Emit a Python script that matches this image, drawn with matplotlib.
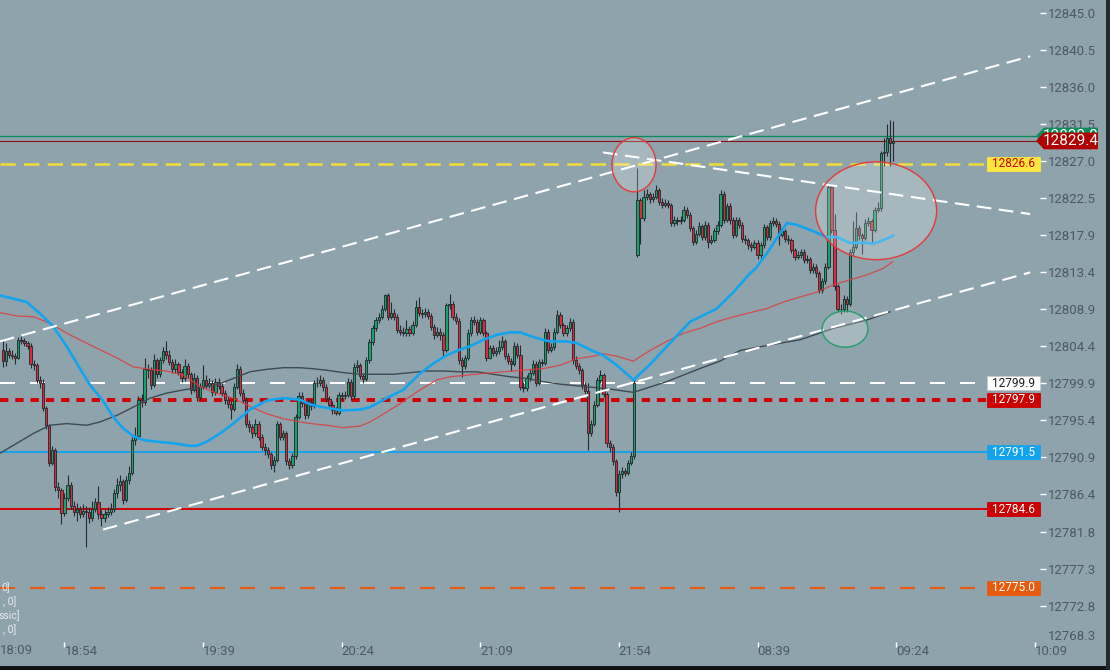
import matplotlib
matplotlib.use("Agg")
import matplotlib.pyplot as plt
from matplotlib.patches import Ellipse, Rectangle, Polygon
import numpy as np

plt.rcParams['font.family'] = ['Roboto', 'DejaVu Sans']
plt.rcParams['lines.scale_dashes'] = False

# ---- candles (1 min), index 0 = 18:34, index 206 = 08:00 next session ----
first_open = 12804.0
gap_open = 12815.5
gap_index = 206

closes = [
    12802.6, 12803.8, 12803.4, 12803.2, 12803.0, 12805.2, 12805.1, 12804.8, 12804.5, 12802.3,
    12802.1, 12800.3, 12800.0, 12796.9, 12794.8, 12790.2, 12791.8, 12787.3, 12786.9, 12784.1,
    12786.0, 12787.5, 12785.0, 12784.3, 12784.6, 12784.0, 12784.4, 12784.2, 12783.5, 12784.6,
    12785.4, 12784.0, 12783.5, 12784.0, 12784.3, 12784.6, 12786.5, 12787.5, 12788.0, 12785.7,
    12788.1, 12789.0, 12793.0, 12793.5, 12797.9, 12797.6, 12801.7, 12801.5, 12799.7, 12802.7,
    12801.0, 12802.7, 12803.8, 12803.3, 12802.5, 12801.6, 12802.2, 12801.3, 12800.5, 12802.0,
    12801.0, 12799.1, 12800.6, 12798.2, 12799.5, 12800.3, 12799.7, 12799.9, 12798.8, 12800.1,
    12799.6, 12798.7, 12797.9, 12797.4, 12796.8, 12799.5, 12801.7, 12798.7, 12797.9, 12795.0,
    12794.6, 12793.8, 12795.0, 12793.4, 12792.2, 12791.8, 12791.3, 12790.0, 12790.6, 12795.0,
    12793.4, 12793.8, 12790.4, 12790.0, 12791.0, 12795.8, 12798.4, 12797.5, 12796.0, 12797.6,
    12797.1, 12799.9, 12800.0, 12800.3, 12799.5, 12798.0, 12797.3, 12796.6, 12796.3, 12798.5,
    12798.3, 12798.5, 12800.1, 12798.3, 12801.9, 12802.1, 12800.8, 12800.4, 12802.7, 12804.9,
    12806.6, 12807.6, 12808.0, 12809.0, 12810.6, 12808.0, 12808.4, 12808.0, 12806.4, 12806.2,
    12806.0, 12806.5, 12806.0, 12807.0, 12809.2, 12808.5, 12808.3, 12808.6, 12808.1, 12806.8,
    12805.8, 12806.2, 12805.8, 12804.0, 12809.4, 12809.6, 12808.0, 12807.5, 12802.7, 12802.0,
    12803.0, 12806.0, 12807.6, 12807.4, 12806.2, 12807.6, 12806.0, 12803.0, 12804.2, 12803.6,
    12803.8, 12804.3, 12805.0, 12803.2, 12802.6, 12802.3, 12804.5, 12803.4, 12799.5, 12799.3,
    12800.5, 12801.2, 12802.3, 12800.0, 12802.5, 12802.4, 12806.2, 12804.0, 12804.3, 12806.2,
    12808.2, 12807.0, 12806.0, 12806.6, 12807.4, 12802.7, 12802.0, 12801.5, 12799.7, 12799.0,
    12793.8, 12795.0, 12797.3, 12800.3, 12800.9, 12798.6, 12792.6, 12792.2, 12790.4, 12786.7,
    12788.9, 12789.2, 12789.0, 12790.2, 12791.0, 12799.9, 12822.2, 12820.0, 12822.6, 12822.9,
    12822.3, 12822.6, 12823.4, 12822.0, 12821.6, 12821.8, 12821.6, 12819.4, 12819.8, 12819.6,
    12819.8, 12821.0, 12820.4, 12818.8, 12817.1, 12818.1, 12819.0, 12817.7, 12819.2, 12817.1,
    12817.4, 12818.4, 12819.2, 12823.0, 12819.8, 12821.5, 12819.8, 12818.0, 12819.8, 12819.2,
    12817.5, 12817.3, 12816.7, 12816.5, 12817.0, 12815.5, 12816.7, 12818.9, 12817.7, 12819.4,
    12819.6, 12819.3, 12818.0, 12818.4, 12817.5, 12817.3, 12816.1, 12815.3, 12815.5, 12815.9,
    12814.9, 12815.0, 12813.7, 12814.1, 12813.3, 12811.2, 12812.3, 12814.1, 12823.8, 12818.6,
    12811.7, 12809.0, 12808.9, 12810.2, 12809.6, 12815.9, 12816.5, 12818.8, 12817.9, 12817.6,
    12819.4, 12819.6, 12818.6, 12821.0, 12821.2, 12827.9, 12828.0, 12829.7, 12829.2, 12829.4,
]

highs = [
    12805.2, 12804.8, 12804.2, 12803.9, 12803.6, 12805.5, 12805.6, 12805.4, 12805.0, 12804.8,
    12802.7, 12802.4, 12800.8, 12800.4, 12797.2, 12795.0, 12792.3, 12792.0, 12787.9, 12787.2,
    12786.5, 12788.8, 12787.9, 12785.6, 12785.3, 12785.0, 12785.2, 12785.0, 12784.8, 12785.6,
    12786.0, 12787.4, 12784.5, 12784.6, 12784.9, 12785.3, 12787.0, 12788.4, 12788.7, 12788.3,
    12788.6, 12789.8, 12793.4, 12794.6, 12798.3, 12798.6, 12803.0, 12802.3, 12801.9, 12803.5,
    12803.0, 12803.1, 12804.3, 12805.0, 12803.9, 12802.9, 12802.8, 12802.5, 12801.7, 12802.8,
    12802.4, 12801.3, 12801.1, 12800.9, 12799.9, 12802.1, 12800.9, 12800.6, 12800.3, 12800.6,
    12800.5, 12800.0, 12799.1, 12798.3, 12797.8, 12800.0, 12802.2, 12802.0, 12799.2, 12798.2,
    12795.4, 12795.0, 12795.5, 12795.3, 12793.7, 12792.6, 12792.1, 12791.6, 12791.0, 12795.3,
    12795.2, 12794.2, 12794.1, 12790.8, 12791.4, 12796.2, 12798.9, 12798.9, 12797.8, 12798.0,
    12798.0, 12800.3, 12800.7, 12800.9, 12800.7, 12799.8, 12798.4, 12797.7, 12797.0, 12798.9,
    12798.9, 12799.0, 12800.5, 12800.4, 12802.4, 12802.7, 12802.4, 12801.2, 12803.1, 12805.3,
    12807.0, 12808.0, 12808.5, 12809.4, 12810.8, 12810.9, 12809.8, 12808.9, 12808.3, 12807.0,
    12806.8, 12807.6, 12806.9, 12807.5, 12810.0, 12810.4, 12809.0, 12809.1, 12808.9, 12808.4,
    12807.1, 12806.7, 12806.6, 12806.1, 12809.7, 12810.8, 12809.9, 12808.4, 12807.8, 12803.1,
    12803.4, 12806.5, 12808.0, 12808.1, 12807.7, 12808.0, 12807.9, 12806.3, 12804.6, 12804.6,
    12804.3, 12805.2, 12805.6, 12805.3, 12803.6, 12803.0, 12804.9, 12804.8, 12804.6, 12800.1,
    12800.9, 12801.6, 12802.7, 12802.6, 12802.9, 12802.9, 12806.6, 12806.5, 12804.8, 12806.6,
    12808.8, 12808.6, 12807.3, 12807.0, 12807.8, 12807.7, 12803.2, 12802.4, 12801.8, 12800.1,
    12800.0, 12795.4, 12797.7, 12800.7, 12801.5, 12801.2, 12798.9, 12793.0, 12792.5, 12790.7,
    12789.3, 12789.7, 12789.6, 12790.6, 12791.5, 12800.4, 12826.1, 12822.5, 12823.4, 12823.6,
    12823.2, 12823.1, 12824.0, 12823.7, 12822.4, 12822.3, 12822.2, 12821.9, 12820.3, 12820.2,
    12820.3, 12821.5, 12821.3, 12820.7, 12819.1, 12818.6, 12819.5, 12819.3, 12819.6, 12819.5,
    12817.9, 12818.8, 12819.6, 12823.4, 12823.3, 12821.9, 12821.8, 12820.1, 12820.2, 12820.1,
    12819.5, 12817.9, 12817.6, 12817.1, 12817.4, 12817.3, 12817.1, 12819.3, 12819.2, 12819.8,
    12820.1, 12820.0, 12819.6, 12818.9, 12818.7, 12817.9, 12817.6, 12816.4, 12816.0, 12816.3,
    12816.2, 12815.5, 12815.3, 12814.6, 12814.4, 12813.6, 12812.7, 12814.5, 12824.0, 12823.9,
    12820.5, 12812.0, 12809.6, 12810.6, 12810.5, 12816.3, 12819.6, 12820.8, 12819.2, 12818.2,
    12819.9, 12820.1, 12819.9, 12821.4, 12822.0, 12828.2, 12829.8, 12831.5, 12832.0, 12831.8,
]

lows = [
    12801.9, 12802.0, 12803.0, 12802.8, 12802.3, 12802.8, 12804.7, 12804.4, 12804.1, 12801.8,
    12801.5, 12799.9, 12799.3, 12796.5, 12794.3, 12789.8, 12789.9, 12786.8, 12786.0, 12782.8,
    12783.7, 12785.6, 12784.6, 12783.8, 12783.2, 12783.5, 12783.6, 12780.0, 12782.9, 12783.1,
    12784.2, 12783.4, 12782.5, 12783.0, 12783.6, 12783.9, 12784.3, 12786.0, 12786.8, 12785.2,
    12785.4, 12787.7, 12788.8, 12792.4, 12793.1, 12797.0, 12797.3, 12800.6, 12799.2, 12799.4,
    12800.6, 12800.7, 12802.4, 12802.9, 12802.1, 12801.2, 12801.2, 12800.9, 12800.1, 12800.2,
    12800.6, 12798.6, 12798.8, 12797.7, 12797.9, 12799.2, 12799.3, 12799.3, 12798.4, 12798.5,
    12799.2, 12798.3, 12797.4, 12796.9, 12795.5, 12796.5, 12799.2, 12798.3, 12797.5, 12794.6,
    12794.0, 12793.3, 12793.5, 12793.0, 12791.8, 12791.2, 12790.8, 12789.5, 12789.1, 12790.3,
    12793.0, 12793.0, 12790.0, 12789.5, 12789.6, 12790.7, 12795.5, 12797.0, 12795.5, 12795.7,
    12796.7, 12796.9, 12799.4, 12799.6, 12799.0, 12797.6, 12796.9, 12796.2, 12796.0, 12796.1,
    12797.9, 12798.0, 12798.2, 12797.9, 12798.0, 12801.3, 12800.4, 12799.9, 12800.2, 12802.4,
    12804.6, 12806.3, 12807.2, 12807.7, 12808.7, 12807.6, 12807.7, 12807.6, 12806.0, 12805.8,
    12805.6, 12805.7, 12805.6, 12805.8, 12806.8, 12808.1, 12807.9, 12808.0, 12807.7, 12806.4,
    12805.3, 12805.5, 12805.2, 12803.2, 12803.7, 12809.0, 12807.6, 12807.1, 12802.3, 12800.7,
    12801.7, 12802.7, 12805.7, 12807.0, 12805.8, 12805.9, 12805.6, 12802.6, 12802.8, 12803.2,
    12803.2, 12803.5, 12804.0, 12802.8, 12802.2, 12801.4, 12802.0, 12803.0, 12799.1, 12798.9,
    12799.0, 12800.2, 12800.9, 12799.6, 12799.7, 12802.0, 12802.1, 12803.6, 12803.7, 12804.0,
    12805.9, 12806.6, 12805.6, 12805.7, 12806.3, 12802.3, 12801.6, 12801.0, 12799.2, 12798.6,
    12791.8, 12793.5, 12794.7, 12797.0, 12800.0, 12798.2, 12792.2, 12791.6, 12789.9, 12786.2,
    12784.2, 12788.4, 12788.6, 12788.7, 12789.9, 12790.7, 12815.3, 12816.9, 12819.7, 12822.2,
    12821.9, 12822.0, 12822.3, 12821.6, 12821.2, 12821.3, 12821.2, 12819.0, 12819.1, 12819.2,
    12819.3, 12819.5, 12820.0, 12818.4, 12816.7, 12816.8, 12817.8, 12817.3, 12817.4, 12816.4,
    12816.8, 12817.1, 12818.1, 12818.9, 12819.4, 12819.5, 12819.3, 12817.6, 12817.7, 12818.8,
    12817.1, 12816.9, 12816.3, 12816.0, 12816.2, 12815.0, 12815.2, 12816.4, 12817.3, 12817.4,
    12819.1, 12818.9, 12816.7, 12817.7, 12817.1, 12816.9, 12815.7, 12814.9, 12815.0, 12815.1,
    12814.5, 12814.5, 12813.3, 12813.3, 12812.8, 12810.9, 12810.9, 12812.0, 12813.8, 12818.2,
    12811.3, 12808.6, 12808.3, 12808.6, 12808.6, 12809.3, 12815.4, 12816.2, 12817.4, 12815.6,
    12817.3, 12819.0, 12817.0, 12818.3, 12820.7, 12820.9, 12826.4, 12827.6, 12826.4, 12826.9,
]

# ---- moving averages (index, price) ----
ma_blue_x = [-0.9, 7.7, 12, 16.4, 20.7, 26, 28.3, 32.6, 35.8, 39.1, 42.3, 45.6, 49.9, 55.3,
             60.7, 62.9, 66.2, 70.5, 74.8, 80.2, 85.6, 91, 96.5, 100, 105.1, 110.5, 116,
             119.2, 124.6, 130, 135.4, 139.7, 144, 148.4, 151.6, 156, 160.3, 164.6, 167.9,
             173.3, 177.6, 183, 186.3, 191.7, 195, 199.3, 203.6, 204.7, 210.1, 216.6, 223.1,
             226.4, 231.8, 237.2, 242.6, 244.2, 248, 250.1, 254.5, 257.7, 263.1, 267.5,
             270.7, 275, 280.5, 282.6, 286.4, 289.1]
ma_blue_y = [12810.6, 12809.8, 12808.4, 12806.8, 12804.4, 12801.1, 12799.7, 12797.7, 12795.8,
             12794.4, 12793.5, 12793.0, 12792.8, 12792.6, 12792.3, 12792.3, 12792.8, 12793.8,
             12795.0, 12796.7, 12797.8, 12798.1, 12797.9, 12797.3, 12796.9, 12796.6, 12796.7,
             12797.0, 12798.1, 12799.1, 12801.1, 12802.3, 12803.3, 12804.0, 12804.4, 12805.2,
             12805.8, 12806.1, 12806.1, 12805.4, 12805.0, 12805.0, 12804.8, 12803.8, 12803.3,
             12802.1, 12800.7, 12800.3, 12802.2, 12804.8, 12807.4, 12808.0, 12809.0, 12811.0,
             12813.3, 12813.8, 12815.7, 12816.9, 12819.4, 12819.2, 12818.4, 12817.7, 12817.7,
             12817.0, 12817.0, 12816.9, 12817.4, 12817.9]

ma_red_x = [-0.9, 4.5, 9.9, 15.3, 20.7, 26, 31.5, 37, 42.3, 47.8, 53, 58.6, 64, 69.4, 74.8,
            80.2, 85.6, 91, 96.5, 100, 105.1, 110.5, 116, 119.2, 124.6, 130, 135.4, 140.8,
            145.2, 150.6, 156, 162.5, 169, 175.5, 180.9, 186.3, 191.7, 195, 199.3, 204.7,
            210.1, 215.5, 221, 226.4, 231.8, 237.2, 242.6, 248, 253.4, 258.8, 264.2, 269.7,
            275.1, 280.5, 285.9, 288.9]
ma_red_y = [12808.5, 12808.1, 12808.0, 12807.2, 12806.0, 12805.0, 12804.0, 12803.0, 12801.9,
            12801.6, 12801.4, 12800.9, 12799.5, 12798.7, 12798.1, 12797.1, 12796.2, 12795.6,
            12795.2, 12795.0, 12794.8, 12794.5, 12794.7, 12795.2, 12796.4, 12797.7, 12799.1,
            12800.3, 12800.7, 12800.9, 12801.1, 12801.3, 12801.5, 12801.7, 12802.1, 12802.9,
            12803.2, 12803.5, 12803.2, 12802.6, 12803.9, 12805.0, 12806.0, 12806.6, 12807.4,
            12808.0, 12808.5, 12809.0, 12809.8, 12810.4, 12811.0, 12811.9, 12812.5, 12813.1,
            12813.9, 12814.7]

ma_grey_x = [-0.9, 4.5, 9.9, 15.3, 20.7, 27.2, 31.5, 37, 42.3, 47.8, 53, 58.6, 64, 69.4,
             74.8, 80.2, 85.6, 91, 96.5, 100, 105.1, 110.5, 116, 121.3, 126.8, 132.2, 137.6,
             143, 148.4, 153.8, 159.2, 164.6, 170, 175.5, 180.9, 186.3, 191.7, 197.1, 204.7,
             215.5, 226.3, 232.8, 239.4, 248, 258.8, 269.7, 280.5, 288]
ma_grey_y = [12791.4, 12792.6, 12793.8, 12794.8, 12795.0, 12794.8, 12795.2, 12796.0, 12797.0,
             12798.1, 12798.7, 12799.1, 12799.4, 12799.7, 12800.5, 12801.3, 12801.6, 12801.8,
             12801.8, 12801.7, 12801.5, 12801.2, 12801.0, 12801.0, 12801.0, 12801.2, 12801.4,
             12801.4, 12801.3, 12801.3, 12801.0, 12800.7, 12800.5, 12800.1, 12799.8, 12799.6,
             12799.4, 12799.2, 12798.8, 12800.1, 12801.7, 12802.6, 12803.9, 12804.5, 12805.2,
             12806.6, 12807.6, 12808.6]

# ---- drawn objects ----
level_values = [12826.6, 12799.9, 12797.9, 12791.5, 12784.6, 12775.0]
level_labels = ['12826.6', '12799.9', '12797.9', '12791.5', '12784.6', '12775.0']
ask_price = 12830.0
last_price = 12829.4

# trend lines: (x0, y0, x1, y1)
trend_lines = [(-0.94, 12805.0, 333.5, 12839.7),
               (32.5, 12782.1, 333.5, 12813.4),
               (194.8, 12828.0, 333.5, 12820.5)]

# ellipses: (center x, center y, width, height)
ellipses = [(204.9, 12826.5, 14.3, 6.6),
            (283.5, 12820.9, 39.3, 11.9),
            (273.4, 12806.5, 14.9, 4.4)]

time_idx = [20, 65, 110, 155, 200, 245, 290, 335]
time_labels = ['18:54', '19:39', '20:24', '21:09', '21:54', '08:39', '09:24', '10:09']

ytick_labels = ['12845.0', '12840.5', '12836.0', '12831.5', '12827.0', '12822.5', '12817.9',
                '12813.4', '12808.9', '12804.4', '12799.9', '12795.4', '12790.9', '12786.4',
                '12781.8', '12777.3', '12772.8']

# ---------------------------------------------------------------
BG = '#8fa3ad'
AXC = '#4c5961'
W, H = 1110, 670
fig = plt.figure(figsize=(W / 100, H / 100), dpi=100, facecolor=BG)
ax = fig.add_axes([0, 28 / H, 1040 / W, 642 / H])
ax.set_facecolor(BG)
for s in ax.spines.values():
    s.set_visible(False)
ax.set_xlim(-0.94, 336.7)
ax.set_ylim(12768.42, 12846.55)

# horizontal levels
ax.axhline(ask_price, xmax=0.997, color='#0d8a5c', lw=1.0, zorder=2)
ax.axhline(last_price, xmax=0.997, color='#8a1010', lw=0.8, zorder=2)
lv_colors = ['#f2dc36', 'white', '#d10000', '#17a2ea', '#d10000', '#e85a12']
lv_styles = [(0, (11, 6)), (0, (10.8, 10.8)), (0, (6, 5)), '-', '-', (0, (10.8, 10.8))]
lv_widths = [1.8, 1.5, 2.8, 1.4, 1.4, 1.6]
for v, col, ls, lw in zip(level_values, lv_colors, lv_styles, lv_widths):
    ax.axhline(v, xmax=987 / 1040, color=col, ls=ls, lw=lw, zorder=2)

# candles
opens = [first_open] + closes[:-1]
opens[gap_index] = gap_open
idx = np.arange(len(closes))
o = np.array(opens)
c = np.array(closes)
up = c >= o
EDGE = '#232b30'
ax.vlines(idx, lows, highs, color=EDGE, lw=0.8, zorder=4)
ax.bar(idx[up], np.maximum(c - o, 0.05)[up], bottom=o[up], width=0.74,
       color='#19a36b', edgecolor=EDGE, lw=0.65, zorder=5)
ax.bar(idx[~up], (o - c)[~up], bottom=c[~up], width=0.74,
       color='#e0293b', edgecolor=EDGE, lw=0.65, zorder=5)

# moving averages
ax.plot(ma_grey_x, ma_grey_y, color='#3e4a52', lw=1.0, zorder=6)
ax.plot(ma_red_x, ma_red_y, color='#e03b3b', lw=0.9, alpha=0.85, zorder=6)
ax.plot(ma_blue_x, ma_blue_y, color='#12a4ee', lw=1.9, zorder=6,
        solid_capstyle='round', solid_joinstyle='round')

# trend lines
for x0, y0, x1, y1 in trend_lines:
    ax.plot([x0, x1], [y0, y1], color='white', lw=1.5, ls=(0, (10.5, 5.5)), zorder=7)

# ellipses
for (cx, cy, ew, eh), ec in zip(ellipses, ['#e23b3b', '#e23b3b', '#1f9e6a']):
    ax.add_patch(Ellipse((cx, cy), ew, eh, fc=(1, 1, 1, 0.22), ec=ec, lw=1.0, zorder=8))

# level labels on the right
ytr = ax.get_yaxis_transform()
lb_bg = ['#fde73c', 'white', '#cc0000', '#12a3ee', '#cc0000', '#e85a0c']
lb_fg = ['#d10000', '#1e1e1e', 'white', 'white', 'white', 'white']
for v, t, bg, fg in zip(level_values, level_labels, lb_bg, lb_fg):
    ax.add_patch(Rectangle((987 / 1040, v - 0.85), 53 / 1040, 1.7, transform=ytr,
                           fc=bg, ec='#c8c8c8' if bg == 'white' else bg, lw=0.6,
                           clip_on=False, zorder=9))
    ax.text(1013.5 / 1040, v, t, transform=ytr, ha='center', va='center',
            fontsize=8.5, color=fg, zorder=10, clip_on=False)

# price tags (the ask tag sits under the last-price tag)
tip, body, right = 1036 / 1040, 1044 / 1040, 1098 / 1040
for k, (price, col) in enumerate([(ask_price, '#0b8a5a'), (last_price, '#b00000')]):
    pts = [(tip, price), (body, price + 1.02), (right, price + 1.02),
           (right, price - 1.02), (body, price - 1.02)]
    ax.add_patch(Polygon(pts, closed=True, transform=ytr, fc=col, ec='none',
                         clip_on=False, zorder=11 + 2 * k))
    ax.text(1071 / 1040, price - 0.05, f'{price:.1f}', transform=ytr, ha='center',
            va='center', fontsize=11, color='white', zorder=12 + 2 * k, clip_on=False)

# axes ticks
ax.yaxis.tick_right()
ax.set_yticks([float(t) for t in ytick_labels])
ax.set_yticklabels(ytick_labels)
ax.tick_params(axis='y', direction='out', length=4.3, width=1, color='white',
               pad=1.5, labelsize=9.5, labelcolor=AXC)
ax.set_xticks(time_idx)
ax.set_xticklabels(time_labels)
ax.tick_params(axis='x', direction='out', length=3.5, width=1, color='white',
               pad=-1.5, labelsize=9.5, labelcolor=AXC)
for lab in ax.get_xticklabels():
    lab.set_horizontalalignment('left')

fig.text(1048 / W, 1 - 637 / H, '12768.3', ha='left', va='center', fontsize=9.5, color=AXC)
fig.text(0, 1 - 650 / H, '18:09', ha='left', va='center', fontsize=9.5, color=AXC)

# clipped legend fragments at left
for ty, tx, txt in [(588, 10, '0]'), (602, 16, ', 0]'), (616, 20, 'ssic]'), (630, 16, ', 0]')]:
    fig.text(tx / W, 1 - ty / H, txt, ha='right', va='center', fontsize=7.5, color='#e8ecef')

# frame edges
fig.add_artist(Rectangle((0, 0), 1, 4 / H, transform=fig.transFigure, fc='#101214', ec='none'))
fig.add_artist(Rectangle((1106 / W, 0), 4 / W, 1, transform=fig.transFigure, fc='#23282c', ec='none'))

fig.savefig('out.png', dpi=100, facecolor=BG)
